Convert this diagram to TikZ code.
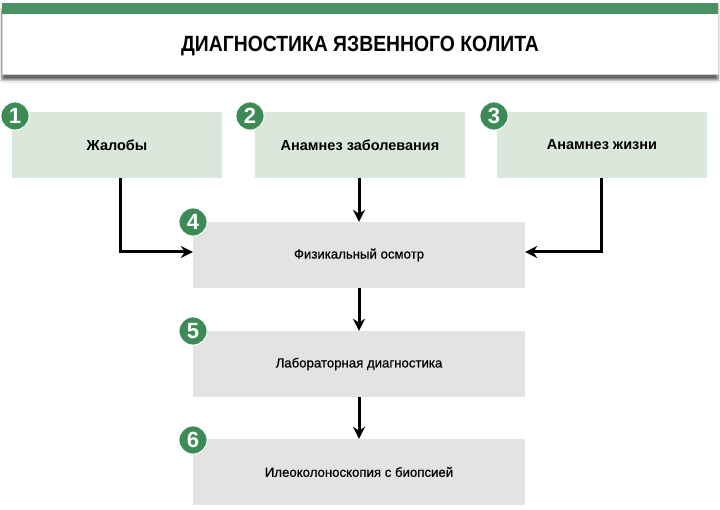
\documentclass[tikz,border=0pt]{standalone}
\usepackage{fontspec}
\setmainfont{Liberation Sans}
\usetikzlibrary{shadows,shadows.blur,arrows.meta}
\definecolor{hdrgreen}{HTML}{4A9163}
\definecolor{numgreen}{HTML}{3C8A55}
\definecolor{lightgreen}{HTML}{DBE7DB}
\definecolor{lightgray}{HTML}{E3E3E3}
\tikzset{
  greenbox/.style={fill=lightgreen, draw=none, minimum width=210pt, minimum height=66pt, inner sep=0pt, font=\bfseries\fontsize{14.5}{16}\selectfont},
  graybox/.style={fill=lightgray, draw=none, minimum width=332pt, minimum height=66pt, inner sep=0pt, font=\fontsize{13.2}{15}\selectfont\addfontfeature{FakeBold=0.6}},
  numcirc/.style={circle, fill=numgreen, draw=white, line width=0.8pt, minimum size=28pt, inner sep=0pt, text=white, font=\bfseries\fontsize{22}{22}\selectfont},
  flow/.style={line width=3pt, -{Stealth[length=12pt,width=12pt]}}
}
\begin{document}
\begin{tikzpicture}[x=1pt,y=-1pt]
\useasboundingbox (0,0) rectangle (720,510);
\fill[white] (0,0) rectangle (720,510);
% header
\node[fill=white, draw=gray!35, line width=0.6pt, minimum width=716pt, minimum height=70pt, inner sep=0pt,
  blur shadow={shadow blur steps=10, shadow xshift=0pt, shadow yshift=-6pt, shadow blur extra rounding=1pt, shadow opacity=60}] (hdr) at (360,39) {};
\fill[hdrgreen] (2,3) rectangle (718,14);
\node[font=\bfseries\fontsize{22}{24}\selectfont] (title) at (360,46) {\scalebox{0.88}[1]{ДИАГНОСТИКА ЯЗВЕННОГО КОЛИТА}};
% top boxes
\node[greenbox] (b1) at (117,145) {Жалобы};
\node[greenbox] (b2) at (360,145) {Анамнез заболевания};
\node[greenbox] (b3) at (602,145) {Анамнез жизни};
% gray boxes
\node[graybox] (b4) at (359,255) {Физикальный осмотр};
\node[graybox] (b5) at (359,364) {Лабораторная диагностика};
\node[graybox] (b6) at (359,472) {Илеоколоноскопия с биопсией};
% numbers
\node[numcirc] (n1) at (15,116) {1};
\node[numcirc] (n2) at (250,116) {2};
\node[numcirc] (n3) at (494,116) {3};
\node[numcirc] (n4) at (193,222) {4};
\node[numcirc] (n5) at (193,331) {5};
\node[numcirc] (n6) at (193,440) {6};
% connectors
\coordinate (c1) at (120,252);
\coordinate (c3) at (601,252);
\draw[flow] (b1.south -| c1) -- (c1) -- (b4.west |- c1);
\draw[flow] (b3.south -| c3) -- (c3) -- (b4.east |- c3);
\draw[flow] (b2.south -| b4.north) -- (b4.north);
\draw[flow] (b4.south) -- (b5.north);
\draw[flow] (b5.south) -- (b6.north);
\end{tikzpicture}
\end{document}
